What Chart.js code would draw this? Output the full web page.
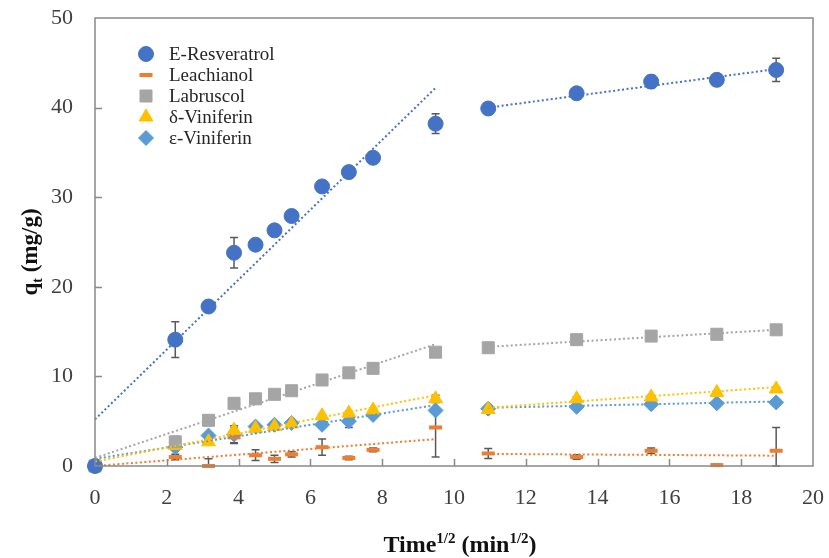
<!DOCTYPE html>
<html>
<head>
<meta charset="utf-8">
<script src="https://cdn.jsdelivr.net/npm/chart.js@4.4.1/dist/chart.umd.min.js"></script>
<style>
  html, body { margin: 0; padding: 0; background: #fff; }
  #wrap { width: 829px; height: 558px; }
</style>
</head>
<body>
<div id="wrap"><canvas id="myChart" width="829" height="558"></canvas></div>
<script>
// square root of sampling time (min^1/2)
const timeRoot = [0, 2.236, 3.162, 3.873, 4.472, 5.0, 5.477, 6.325, 7.071, 7.746, 9.487, 10.954, 13.416, 15.492, 17.321, 18.974];

const resveratrol    = [0, 14.1, 17.8, 23.8, 24.7, 26.3, 27.9, 31.2, 32.8, 34.4, 38.2, 39.9, 41.6, 42.9, 43.1, 44.2];
const resveratrolErr = [0, 2.0, 0.3, 1.7, 0.3, 0.3, 0.3, 0.6, 0.4, 0.3, 1.1, 0.3, 0.3, 0.7, 0.3, 1.3];
const leachianol     = [0, 1.0, 0.0, 3.2, 1.2, 0.8, 1.3, 2.1, 0.9, 1.8, 4.3, 1.4, 1.0, 1.7, 0.1, 1.7];
const leachianolErr  = [0, 0.3, 0.8, 0.6, 0.6, 0.4, 0.3, 0.9, 0.2, 0.2, 3.3, 0.55, 0.25, 0.3, 0.1, 2.6];
const labruscol      = [0, 2.7, 5.1, 7.0, 7.5, 8.0, 8.4, 9.6, 10.4, 10.9, 12.7, 13.2, 14.1, 14.5, 14.7, 15.2];
const labruscolErr   = [0, 0.6, 0.2, 0.3, 0.2, 0.2, 0.2, 0.2, 0.2, 0.2, 0.5, 0.2, 0.2, 0.2, 0.2, 0.2];
const deltaVin       = [0, 2.3, 2.7, 4.0, 4.2, 4.4, 4.7, 5.6, 5.9, 6.25, 7.5, 6.3, 7.5, 7.7, 8.2, 8.6];
const deltaVinErr    = [0, 0.2, 0.2, 0.3, 0.2, 0.2, 0.2, 0.2, 0.2, 0.2, 0.4, 0.2, 0.2, 0.2, 0.2, 0.2];
const epsilonVin     = [0, 2.1, 3.4, 3.5, 4.4, 4.6, 4.8, 4.6, 5.0, 5.7, 6.2, 6.4, 6.6, 6.9, 7.0, 7.1];
const epsilonVinErr  = [0, 0.3, 0.3, 1.0, 0.3, 0.3, 0.3, 0.3, 0.7, 0.3, 0.3, 0.2, 0.2, 0.2, 0.2, 0.2];

// linear fits, stage 1 and stage 2 (end points)
const fitX1 = [0, 9.487];
const fitX2 = [10.954, 18.974];
const resveratrolFit1 = [5.2, 42.2];
const resveratrolFit2 = [40.0, 44.3];
const leachianolFit1  = [0.0, 3.0];
const leachianolFit2  = [1.35, 1.15];
const labruscolFit1   = [0.9, 13.6];
const labruscolFit2   = [13.3, 15.2];
const deltaVinFit1    = [0.5, 7.9];
const deltaVinFit2    = [6.5, 8.8];
const epsilonVinFit1  = [0.8, 6.8];
const epsilonVinFit2  = [6.5, 7.2];

const xTicks = [0, 20, 2];
const yTicks = [0, 50, 10];

const toPoints = (xs, ys) => xs.map((x, i) => ({ x: x, y: ys[i] }));

const series = [
  { label: "E-Resveratrol", y: resveratrol, err: resveratrolErr, f1: resveratrolFit1, f2: resveratrolFit2,
    color: "#4472C4", style: "circle", radius: 7.5, bw: 1 },
  { label: "Leachianol", y: leachianol, err: leachianolErr, f1: leachianolFit1, f2: leachianolFit2,
    color: "#ED7D31", style: "line", radius: 6.5, bw: 4 },
  { label: "Labruscol", y: labruscol, err: labruscolErr, f1: labruscolFit1, f2: labruscolFit2,
    color: "#A5A5A5", style: "rect", radius: 8.5, bw: 1 },
  { label: "δ-Viniferin", y: deltaVin, err: deltaVinErr, f1: deltaVinFit1, f2: deltaVinFit2,
    color: "#FFC000", style: "triangle", radius: 8, bw: 1 },
  { label: "ε-Viniferin", y: epsilonVin, err: epsilonVinErr, f1: epsilonVinFit1, f2: epsilonVinFit2,
    color: "#5B9BD5", style: "rectRot", radius: 7.5, bw: 1 },
];

const datasets = [];
series.forEach((s, i) => {
  datasets.push({
    type: "scatter",
    label: s.label,
    data: toPoints(timeRoot, s.y),
    errors: s.err,
    pointStyle: s.style,
    pointRadius: s.radius,
    pointHoverRadius: s.radius,
    backgroundColor: s.color,
    borderColor: s.color,
    pointBorderWidth: s.bw,
    showLine: false,
    clip: false,
    order: 10,
  });
  [[fitX1, s.f1], [fitX2, s.f2]].forEach(([fx, fy]) => {
    datasets.push({
      type: "line",
      label: s.label + " fit",
      isFit: true,
      data: toPoints(fx, fy),
      borderColor: s.color,
      borderWidth: 2,
      borderDash: [2, 2.5],
      pointRadius: 0,
      fill: false,
      order: 1,
    });
  });
});

const serif = "'Liberation Serif', 'Times New Roman', serif";

// error bars (vertical, drawn under the markers)
const errorBars = {
  id: "errorBars",
  beforeDatasetsDraw(chart) {
    const { ctx, scales: { x, y } } = chart;
    ctx.save();
    ctx.strokeStyle = "#595959";
    ctx.lineWidth = 1.5;
    chart.data.datasets.forEach((ds) => {
      if (!ds.errors) return;
      ds.data.forEach((p, i) => {
        const e = ds.errors[i];
        if (!e) return;
        const px = x.getPixelForValue(p.x);
        const top = y.getPixelForValue(p.y + e);
        const bot = y.getPixelForValue(Math.max(p.y - e, 0));
        ctx.beginPath();
        ctx.moveTo(px, top); ctx.lineTo(px, bot);
        ctx.moveTo(px - 4, top); ctx.lineTo(px + 4, top);
        ctx.moveTo(px - 4, bot); ctx.lineTo(px + 4, bot);
        ctx.stroke();
      });
    });
    ctx.restore();
  }
};

// frame, inward ticks, legend and axis titles
const decorations = {
  id: "decorations",
  afterDraw(chart) {
    const { ctx, chartArea: a, scales: { x, y } } = chart;
    ctx.save();
    ctx.strokeStyle = "#898989";
    ctx.lineWidth = 1.5;
    ctx.strokeRect(a.left, a.top, a.right - a.left, a.bottom - a.top);
    ctx.beginPath();
    for (let v = xTicks[0] + xTicks[2]; v < xTicks[1]; v += xTicks[2]) {
      const px = Math.round(x.getPixelForValue(v)) + 0.5;
      ctx.moveTo(px, a.bottom); ctx.lineTo(px, a.bottom - 7);
    }
    for (let v = yTicks[0] + yTicks[2]; v < yTicks[1]; v += yTicks[2]) {
      const py = Math.round(y.getPixelForValue(v)) + 0.5;
      ctx.moveTo(a.left, py); ctx.lineTo(a.left + 7, py);
    }
    ctx.stroke();

    // legend
    ctx.font = "19px " + serif;
    ctx.textBaseline = "middle";
    ctx.textAlign = "left";
    let ly = 54;
    chart.data.datasets.filter(d => !d.isFit).forEach((ds) => {
      ctx.fillStyle = ds.backgroundColor;
      ctx.strokeStyle = ds.borderColor;
      ctx.lineWidth = ds.pointBorderWidth;
      Chart.helpers.drawPoint(ctx, { pointStyle: ds.pointStyle, radius: ds.pointRadius, borderWidth: ds.pointBorderWidth, rotation: 0 }, 146, ly);
      ctx.fillStyle = "#262626";
      ctx.fillText(ds.label, 169, ly + 1);
      ly += 21;
    });

    // x title: Time^1/2 (min^1/2)
    const big = "bold 24px " + serif, small = "bold 15px " + serif;
    const parts = [["Time", big, 0], ["1/2", small, -9], [" (min", big, 0], ["1/2", small, -9], [")", big, 0]];
    ctx.fillStyle = "#111";
    ctx.textBaseline = "alphabetic";
    let w = 0;
    parts.forEach(p => { ctx.font = p[1]; w += ctx.measureText(p[0]).width; });
    let tx = 460 - w / 2;
    parts.forEach(p => { ctx.font = p[1]; ctx.fillText(p[0], tx, 552 + p[2]); tx += ctx.measureText(p[0]).width; });

    // y title: q_t (mg/g)
    const bigY = "bold 23px " + serif, smallY = "bold 14px " + serif;
    ctx.translate(37, 252);
    ctx.rotate(-Math.PI / 2);
    const yparts = [["q", bigY, 0], ["t", smallY, 5], [" (mg/g)", bigY, 0]];
    w = 0;
    yparts.forEach(p => { ctx.font = p[1]; w += ctx.measureText(p[0]).width; });
    tx = -w / 2;
    yparts.forEach(p => { ctx.font = p[1]; ctx.fillText(p[0], tx, p[2]); tx += ctx.measureText(p[0]).width; });
    ctx.restore();
  }
};

const ctx = document.getElementById("myChart").getContext("2d");
const chart = new Chart(ctx, {
  data: { datasets: datasets },
  options: {
    responsive: false,
    animation: false,
    devicePixelRatio: 1,
    layout: { padding: { top: 18, right: 16, left: 0, bottom: 0 } },
    plugins: {
      legend: { display: false },
      tooltip: { enabled: false },
    },
    scales: {
      x: {
        type: "linear",
        min: xTicks[0], max: xTicks[1],
        ticks: { stepSize: xTicks[2], color: "#404040", font: { family: serif, size: 22 }, padding: 19 },
        grid: { drawOnChartArea: false, drawTicks: false },
        border: { display: false },
        afterFit: (s) => { s.height = 92; s.paddingLeft = 0; s.paddingRight = 0; },
      },
      y: {
        type: "linear",
        min: yTicks[0], max: yTicks[1],
        ticks: { stepSize: yTicks[2], color: "#404040", font: { family: serif, size: 22 }, padding: 22 },
        grid: { drawOnChartArea: false, drawTicks: false },
        border: { display: false },
        afterFit: (s) => { s.width = 95; s.paddingTop = 0; s.paddingBottom = 0; },
      },
    },
  },
  plugins: [errorBars, decorations],
});
</script>
</body>
</html>
